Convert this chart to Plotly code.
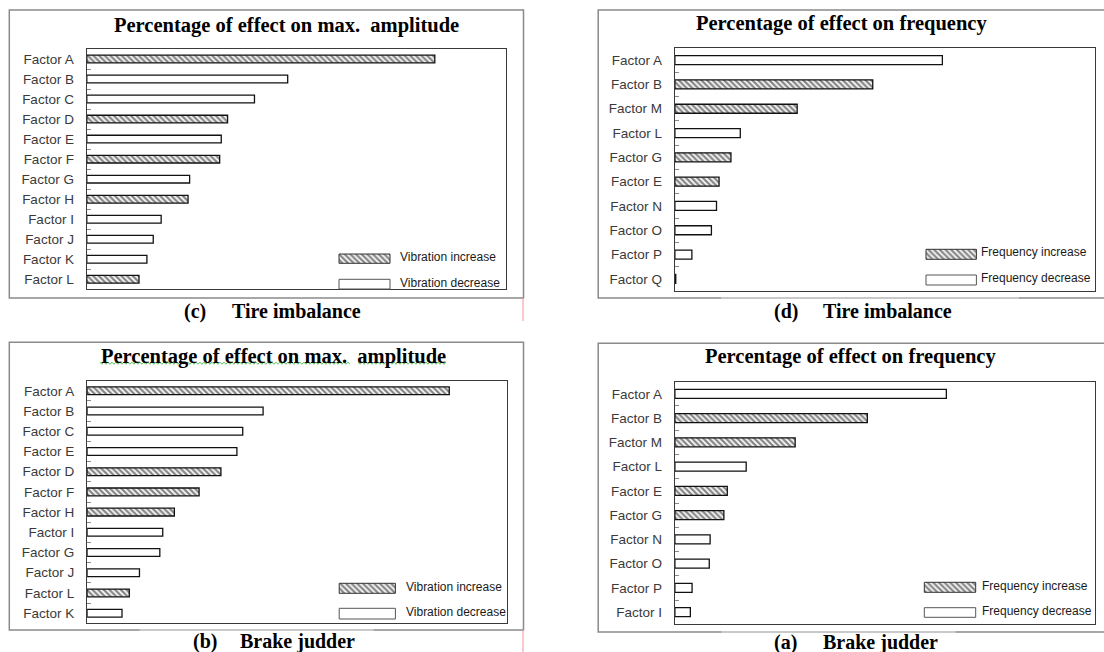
import plotly.graph_objects as go

W, H = 1104, 652

# ---- data: percentage of effect per factor ("+" = increase, "-" = decrease)
amp_tire_factors = ["Factor A", "Factor B", "Factor C", "Factor D", "Factor E", "Factor F",
                    "Factor G", "Factor H", "Factor I", "Factor J", "Factor K", "Factor L"]
amp_tire_values = [22.0, 12.7, 10.6, 8.9, 8.5, 8.4, 6.5, 6.4, 4.7, 4.2, 3.8, 3.3]
amp_tire_effect = ["+", "-", "-", "+", "-", "+", "-", "+", "-", "-", "-", "+"]

freq_tire_factors = ["Factor A", "Factor B", "Factor M", "Factor L", "Factor G",
                     "Factor E", "Factor N", "Factor O", "Factor P", "Factor Q"]
freq_tire_values = [31.5, 23.3, 14.4, 7.7, 6.6, 5.2, 4.9, 4.3, 2.0, 0.1]
freq_tire_effect = ["-", "+", "+", "-", "+", "+", "-", "-", "-", "-"]

amp_brake_factors = ["Factor A", "Factor B", "Factor C", "Factor E", "Factor D", "Factor F",
                     "Factor H", "Factor I", "Factor G", "Factor J", "Factor L", "Factor K"]
amp_brake_values = [24.9, 12.1, 10.7, 10.3, 9.2, 7.7, 6.0, 5.2, 5.0, 3.6, 2.9, 2.4]
amp_brake_effect = ["+", "-", "-", "-", "+", "+", "+", "-", "-", "-", "+", "-"]

freq_brake_factors = ["Factor A", "Factor B", "Factor M", "Factor L", "Factor E",
                      "Factor G", "Factor N", "Factor O", "Factor P", "Factor I"]
freq_brake_values = [31.6, 22.4, 14.0, 8.3, 6.1, 5.7, 4.1, 4.0, 2.0, 1.8]
freq_brake_effect = ["-", "+", "+", "-", "+", "+", "-", "-", "-", "-"]

amp_title = "Percentage of effect on max.\u00a0 amplitude"
freq_title = "Percentage of effect on frequency"
amp_legend = ["Vibration increase", "Vibration decrease"]
freq_legend = ["Frequency increase", "Frequency decrease"]

SANS = "Liberation Sans, Arial, sans-serif"
SERIF = "Liberation Serif, Times New Roman, serif"
HATCH = dict(shape="\\", size=4, solidity=0.6, fgcolor="#111111", bgcolor="white")


def px(x):
    return x / W


def py(y):
    return 1 - y / H


# panel layout in pixels
panels = [
    dict(factors=amp_tire_factors, values=amp_tire_values, effect=amp_tire_effect,
         plot=(86.8, 506.3, 49, 289.3), xmax=26.52, width=0.385,
         frame=(9.3, 523.5, 10, 298), light=None,
         title=amp_title, title_xy=(286.7, 25),
         caption=("(c)", "Tire imbalance"), cap_x=(181.8, 230.0), cap_y=311,
         legend=amp_legend, sw=(339, 390), sw_y=((254, 263.3), (279.3, 289)), lt_x=397.8,
         lt_y=(257, 283)),
    dict(factors=freq_tire_factors, values=freq_tire_values, effect=freq_tire_effect,
         plot=(674.9, 1095.4, 48, 291), xmax=49.52, width=0.37,
         frame=(598.2, 1112, 10, 298), light=(721, 1019),
         title=freq_title, title_xy=(841, 23),
         caption=("(d)", "Tire imbalance"), cap_x=(772.4, 820.6), cap_y=311,
         legend=freq_legend, sw=(926, 976.4), sw_y=((249.3, 259.3), (275, 285)), lt_x=979,
         lt_y=(252.5, 278.5)),
    dict(factors=amp_brake_factors, values=amp_brake_values, effect=amp_brake_effect,
         plot=(87.1, 507, 380.7, 623.3), xmax=28.87, width=0.385,
         frame=(9.3, 523.5, 342.3, 630), light=(139.5, 373.7),
         title=amp_title, title_xy=(273, 356),
         caption=("(b)", "Brake judder"), cap_x=(191.1, 237.6), cap_y=641.5,
         legend=amp_legend, sw=(339.2, 395.4), sw_y=((583.3, 593.3), (608.3, 619)), lt_x=403.6,
         lt_y=(587, 612)),
    dict(factors=freq_brake_factors, values=freq_brake_values, effect=freq_brake_effect,
         plot=(674.9, 1095.4, 381.7, 624.3), xmax=48.95, width=0.37,
         frame=(598.2, 1112, 343.3, 632), light=(721.3, 955.6),
         title=freq_title, title_xy=(850.8, 356),
         caption=("(a)", "Brake judder"), cap_x=(772.4, 820.6), cap_y=642.5,
         legend=freq_legend, sw=(924.3, 975.7), sw_y=((582.3, 592.3), (607.7, 617.3)), lt_x=980,
         lt_y=(585.5, 611)),
]

fig = go.Figure()
shapes = []
annotations = []
layout = {}

for i, p in enumerate(panels, start=1):
    sfx = "" if i == 1 else str(i)
    xa, ya = "x" + sfx, "y" + sfx
    shapes_pat = ["\\" if e == "+" else "" for e in p["effect"]]
    fig.add_trace(go.Bar(
        x=p["values"], y=p["factors"], orientation="h", xaxis=xa, yaxis=ya,
        width=p["width"], showlegend=False, hoverinfo="x+y",
        marker=dict(color="white", line=dict(color="#111", width=1.3),
                    pattern=dict(shape=shapes_pat, size=HATCH["size"],
                                 solidity=HATCH["solidity"], fgcolor=HATCH["fgcolor"],
                                 bgcolor=HATCH["bgcolor"])),
    ))
    x0, x1, y0, y1 = p["plot"]
    layout["xaxis" + sfx] = dict(
        domain=[px(x0), px(x1)], range=[0, p["xmax"]], anchor=ya, showticklabels=False,
        ticks="", showgrid=False, zeroline=False, showline=True, mirror=True,
        linecolor="#3a3a3a", linewidth=1.4, fixedrange=True)
    layout["yaxis" + sfx] = dict(
        domain=[py(y1), py(y0)], anchor=xa, type="category", categoryorder="array",
        categoryarray=p["factors"], autorange="reversed", tickson="boundaries",
        ticks="inside", ticklen=4, tickwidth=1, tickcolor="#888", showgrid=False,
        zeroline=False, showline=True, mirror=True, linecolor="#3a3a3a", linewidth=1.4,
        tickfont=dict(family=SANS, size=13.5, color="#3a3a3a"), ticklabelstandoff=9,
        fixedrange=True)

    # outer frame of the panel
    fx0, fx1, fy0, fy1 = p["frame"]
    shapes.append(dict(type="rect", xref="paper", yref="paper", x0=px(fx0), x1=px(fx1),
                       y0=py(fy1), y1=py(fy0), line=dict(color="#8a8a8a", width=1.5),
                       layer="below"))
    if p["light"]:
        lx0, lx1 = p["light"]
        shapes.append(dict(type="line", xref="paper", yref="paper", x0=px(lx0), x1=px(lx1),
                           y0=py(fy1), y1=py(fy1), line=dict(color="#d4d4d4", width=1.6)))

    # panel title
    tx, ty = p["title_xy"]
    annotations.append(dict(xref="paper", yref="paper", x=px(tx), y=py(ty),
                            text=f"<b>{p['title']}</b>", showarrow=False,
                            xanchor="center", yanchor="middle",
                            font=dict(family=SERIF, size=20.5, color="black")))
    # caption
    for txt, cx in zip(p["caption"], p["cap_x"]):
        annotations.append(dict(xref="paper", yref="paper", x=px(cx), y=py(p["cap_y"]),
                                text=f"<b>{txt}</b>", showarrow=False, xanchor="left",
                                yanchor="middle",
                                font=dict(family=SERIF, size=20, color="black")))
    # legend keys
    sx0, sx1 = p["sw"]
    for k, ((sy0, sy1), label, lty) in enumerate(zip(p["sw_y"], p["legend"], p["lt_y"])):
        fig.add_trace(go.Scatter(
            x=[sx0, sx1, sx1, sx0, sx0], y=[sy0, sy0, sy1, sy1, sy0], xaxis="x5", yaxis="y5",
            mode="lines", fill="toself", fillcolor="white",
            fillpattern=HATCH if k == 0 else None,
            line=dict(color="#333" if k == 0 else "#555", width=1),
            showlegend=False, hoverinfo="skip"))
        annotations.append(dict(xref="paper", yref="paper", x=px(p["lt_x"]), y=py(lty),
                                text=label, showarrow=False, xanchor="left", yanchor="middle",
                                font=dict(family=SANS, size=12, color="#1a1a1a")))

# full-figure pixel axes for the legend keys and decorations
layout["xaxis5"] = dict(domain=[0, 1], range=[0, W], anchor="y5", visible=False,
                        fixedrange=True)
layout["yaxis5"] = dict(domain=[0, 1], range=[H, 0], anchor="x5", visible=False,
                        fixedrange=True)

# spell-check squiggle under the lower-left title
for sx0, sx1 in ((99.9, 351.0), (358.0, 446.0)):
    zx, zy = [], []
    x = sx0
    k = 0
    while x <= sx1:
        zx.append(x)
        zy.append(363.2 + (1.1 if k % 2 else -1.1))
        x += 2.0
        k += 1
    fig.add_trace(go.Scatter(x=zx, y=zy, xaxis="x5", yaxis="y5", mode="lines",
                             line=dict(color="#5cbf5c", width=1), showlegend=False,
                             hoverinfo="skip"))

# thin pink margin marks at the right of the left column
for y0, y1 in ((298, 321), (630, 652)):
    shapes.append(dict(type="line", xref="paper", yref="paper", x0=px(523), x1=px(523),
                       y0=py(y0), y1=py(y1), line=dict(color="#f5a3ab", width=1.2)))

fig.update_layout(
    width=W, height=H, margin=dict(l=0, r=0, t=0, b=0),
    paper_bgcolor="white", plot_bgcolor="rgba(0,0,0,0)",
    shapes=shapes, annotations=annotations, bargap=0.6, **layout)

fig.write_html("out.html", config=dict(displayModeBar=False))
